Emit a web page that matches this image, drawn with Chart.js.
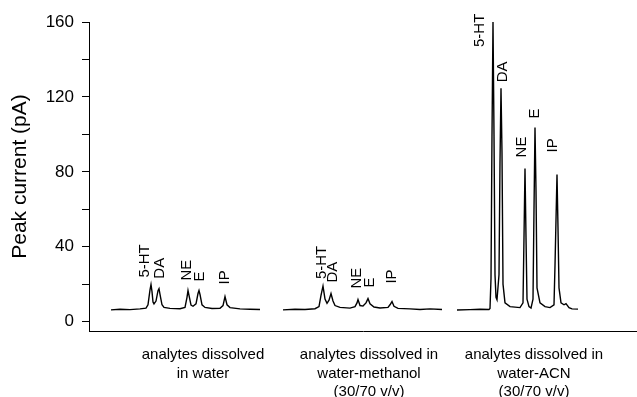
<!DOCTYPE html>
<html>
<head>
<meta charset="utf-8">
<script src="https://cdn.jsdelivr.net/npm/chart.js@4/dist/chart.umd.min.js"></script>
<style>
  html, body { margin: 0; padding: 0; background: #fff; }
  #wrap { width: 637px; height: 397px; position: relative; }
</style>
</head>
<body>
<div id="wrap"><canvas id="chart"></canvas></div>
<script>
// three injections, time in arbitrary units, current in pA
var run1Time = [22, 31, 41, 51, 57, 59, 61, 62, 63, 64, 65, 67, 69, 70, 71, 73, 75, 81, 91, 96, 98, 99, 100, 102, 104, 107, 109, 110, 111, 113, 116, 123, 131, 134, 136, 138, 141, 151, 161, 171];
var run1Current = [6.3, 6.6, 6.4, 6.8, 7.2, 9, 17, 19.8, 16, 10.5, 9.5, 11, 16.5, 17.6, 14.5, 9, 7.6, 7.1, 6.9, 7.6, 13, 16.6, 14, 8.8, 8.2, 9.5, 15, 16.6, 14.5, 9, 7.6, 7.0, 7.1, 8.6, 13.4, 9, 7.5, 6.8, 6.6, 6.5];

var run2Time = [194, 206, 216, 226, 230, 232, 234, 236, 238, 240, 242, 244, 246, 251, 261, 266, 268, 269, 271, 274, 277, 279, 281, 285, 291, 299, 301, 303, 305, 309, 321, 331, 341, 353];
var run2Current = [6.3, 6.6, 6.5, 6.9, 8, 14, 19, 12, 9.8, 11.5, 15, 11, 8.6, 7.6, 7.2, 8, 10, 11.8, 8.6, 8.3, 10, 12.3, 9.5, 7.8, 7.3, 7.6, 9, 10.7, 8.2, 7.1, 6.8, 6.5, 6.8, 6.5];

var run3Time = [368, 381, 391, 400, 401, 402, 403, 404, 405, 406, 407, 408, 410, 411, 412, 413, 414, 416, 421, 431, 434, 435, 436, 437, 438, 440, 442, 444, 445, 446, 447, 448, 451, 456, 461, 465, 466, 468, 469, 470, 472, 475, 477, 480, 483, 489];
var run3Current = [6.2, 6.4, 6.6, 6.5, 7, 23, 100, 160, 100, 25, 13, 11.7, 25, 85, 124.6, 90, 20, 10, 8, 7.5, 10, 45, 81.8, 45, 12, 8, 7.2, 12, 60, 103.7, 70, 18, 10, 8, 7.5, 9, 30, 78.6, 50, 18, 10, 9, 9.6, 7.5, 6.8, 6.7];

var peakNames = ['5-HT', 'DA', 'NE', 'E', 'IP'];
var run1PeakTime = [62, 70, 99, 110, 136];
var run2PeakTime = [234, 242, 269, 279, 303];
var run3PeakTime = [404, 412, 436, 446, 468];

var runLabels = [
    ['analytes dissolved', 'in water'],
    ['analytes dissolved in', 'water-methanol', '(30/70 v/v)'],
    ['analytes dissolved in', 'water-ACN', '(30/70 v/v)']
];
var runCenters = [114, 280, 445];

var yTicks = [0, 20, 40, 60, 80, 100, 120, 140, 160];

var FONT = "'Liberation Sans', Arial, Helvetica, sans-serif";

function toPoints(times, values) {
    var pts = [];
    for (var i = 0; i < times.length; i++) {
        pts.push({x: times[i], y: values[i]});
    }
    return pts;
}

function makeRun(times, values, peaks) {
    return {
        data: toPoints(times, values),
        peaks: peaks,
        borderColor: '#000',
        borderWidth: 1.4,
        pointRadius: 0,
        tension: 0,
        fill: false
    };
}

// nudges for the peak names, [dx, gap above apex] in px
var peakLabelPlugin = {
    id: 'peakLabels',
    afterDatasetsDraw: function(chart, args, opts) {
        var ctx = chart.ctx;
        var xs = chart.scales.x;
        var ys = chart.scales.y;
        ctx.save();
        ctx.fillStyle = '#000';
        ctx.font = opts.fontSize + 'px ' + FONT;
        ctx.textAlign = 'left';
        ctx.textBaseline = 'middle';
        chart.data.datasets.forEach(function(ds, di) {
            ds.peaks.forEach(function(t, pi) {
                var apex = null;
                ds.data.forEach(function(p) {
                    if (p.x == t) apex = p;
                });
                if (!apex) return;
                var shift = opts.shifts[di][pi];
                var px = xs.getPixelForValue(apex.x) + shift[0];
                var py = ys.getPixelForValue(apex.y) - shift[1];
                ctx.save();
                ctx.translate(px, py);
                ctx.rotate(-Math.PI / 2);
                ctx.fillText(peakNames[pi], 0, 0);
                ctx.restore();
            });
        });
        ctx.restore();
    }
};

var ctx = document.getElementById('chart').getContext('2d');
var chart = new Chart(ctx, {
    type: 'line',
    data: {
        datasets: [
            makeRun(run1Time, run1Current, run1PeakTime),
            makeRun(run2Time, run2Current, run2PeakTime),
            makeRun(run3Time, run3Current, run3PeakTime)
        ]
    },
    options: {
        responsive: true,
        maintainAspectRatio: false,
        animation: false,
        layout: {
            padding: {top: 22, right: 0, left: 0, bottom: 0}
        },
        plugins: {
            legend: {display: false},
            tooltip: {enabled: false},
            peakLabels: {
                fontSize: 15,
                shifts: [
                    [[-6, 7], [1, 10], [-1, 10], [1, 9], [0, 12]],
                    [[-1, 7], [2, 11], [-1, 11], [2, 11], [0, 18]],
                    [[-13, -25], [2, 6], [-3, 11], [0, 9], [-4, 22]]
                ]
            }
        },
        scales: {
            x: {
                type: 'linear',
                min: 0,
                max: 548,
                grid: {display: false, drawTicks: false},
                border: {display: true, color: '#000', width: 1},
                afterBuildTicks: function(scale) {
                    scale.ticks = runCenters.map(function(v) { return {value: v}; });
                },
                afterFit: function(scale) {
                    scale.height = 66;
                },
                ticks: {
                    autoSkip: false,
                    maxRotation: 0,
                    padding: 15,
                    color: '#000',
                    font: {family: FONT, size: 15, lineHeight: 1.22},
                    callback: function(value) {
                        var i = runCenters.indexOf(value);
                        return i >= 0 ? runLabels[i] : '';
                    }
                }
            },
            y: {
                min: -5,
                max: 160,
                grid: {
                    display: true,
                    drawOnChartArea: false,
                    drawTicks: true,
                    tickLength: 7,
                    color: '#000',
                    lineWidth: 1
                },
                border: {display: true, color: '#000', width: 1},
                afterBuildTicks: function(scale) {
                    scale.ticks = yTicks.map(function(v) { return {value: v}; });
                },
                afterFit: function(scale) {
                    scale.width = 89;
                },
                ticks: {
                    padding: 8,
                    color: '#000',
                    font: {family: FONT, size: 17},
                    callback: function(value) {
                        return value % 40 === 0 ? value : '';
                    }
                },
                title: {
                    display: true,
                    text: 'Peak current (pA)',
                    color: '#000',
                    font: {family: FONT, size: 21},
                    padding: {top: 8, bottom: 0}
                }
            }
        }
    },
    plugins: [peakLabelPlugin]
});
</script>
</body>
</html>
